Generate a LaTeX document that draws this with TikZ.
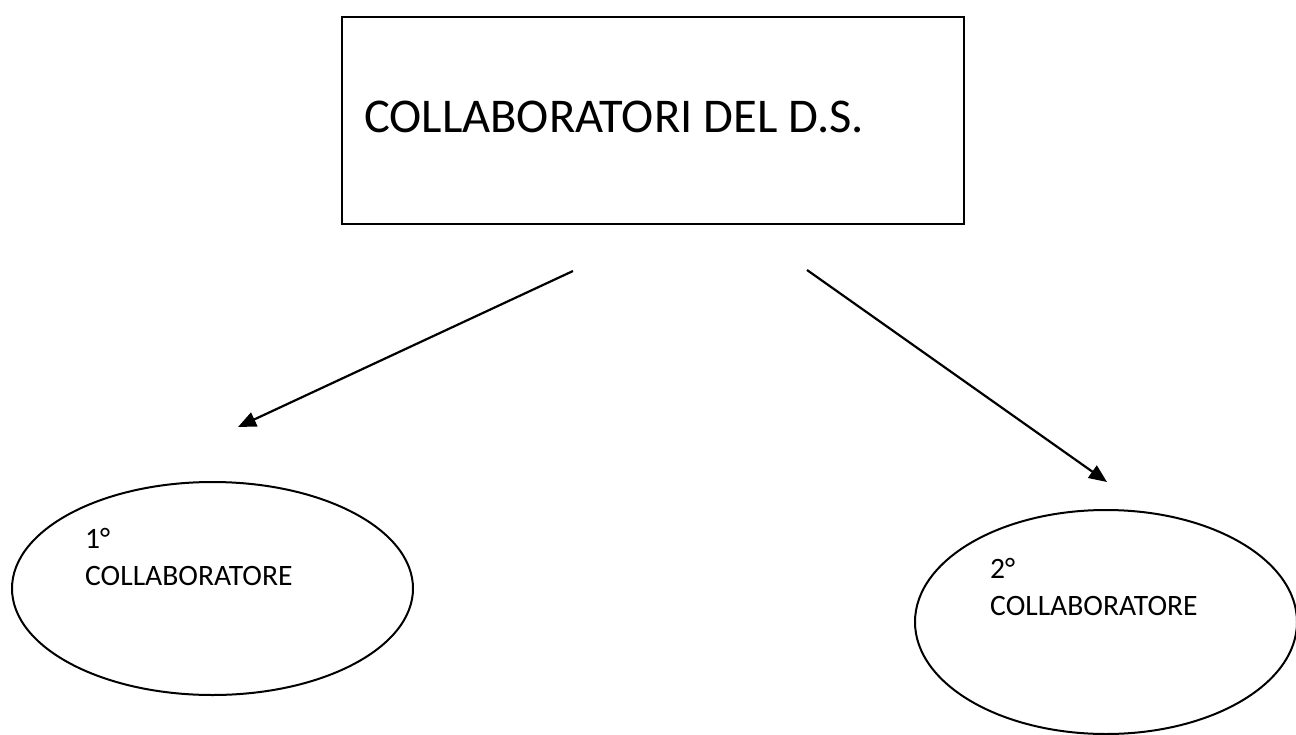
\documentclass[tikz,border=0pt]{standalone}
\usepackage{fontspec}
\setmainfont{Carlito}
\usetikzlibrary{arrows.meta,shapes.geometric}
\begin{document}
\begin{tikzpicture}[x=1pt,y=-1pt,
  boxstyle/.style={draw=black,line width=2pt,rectangle,inner sep=0pt},
  ovalstyle/.style={draw=black,line width=2pt,ellipse,inner sep=0pt},
  bigtext/.style={inner sep=0pt,font=\fontsize{48.5}{58}\selectfont},
  smalltext/.style={inner sep=0pt,align=left,font=\fontsize{29.6}{36.5}\selectfont},
  arrowstyle/.style={line width=2.2pt,-{Triangle[length=18pt,width=15pt]}}]
\useasboundingbox (0,0) rectangle (1296,734);
\fill[white] (0,0) rectangle (1296,734);
\node[boxstyle,minimum width=622pt,minimum height=207pt] (ds) at (653,120.5) {};
\node[bigtext,anchor=base west] (dstext) at (364,132) {COLLABORATORI DEL D.S.};
\node[ovalstyle,minimum width=401pt,minimum height=213pt] (c1) at (212.5,588.5) {};
\node[ovalstyle,minimum width=382pt,minimum height=224pt] (c2) at (1106,622) {};
\node[smalltext,anchor=base west] (c1text) at (85,585) {1°\\COLLABORATORE};
\node[smalltext,anchor=base west] (c2text) at (990,615) {2°\\COLLABORATORE};
\coordinate (s1) at (573,271);
\coordinate (e1) at (238,427);
\coordinate (s2) at (807,270);
\coordinate (e2) at (1107,482);
\draw[arrowstyle] (s1) -- (e1);
\draw[arrowstyle] (s2) -- (e2);
\end{tikzpicture}
\end{document}
